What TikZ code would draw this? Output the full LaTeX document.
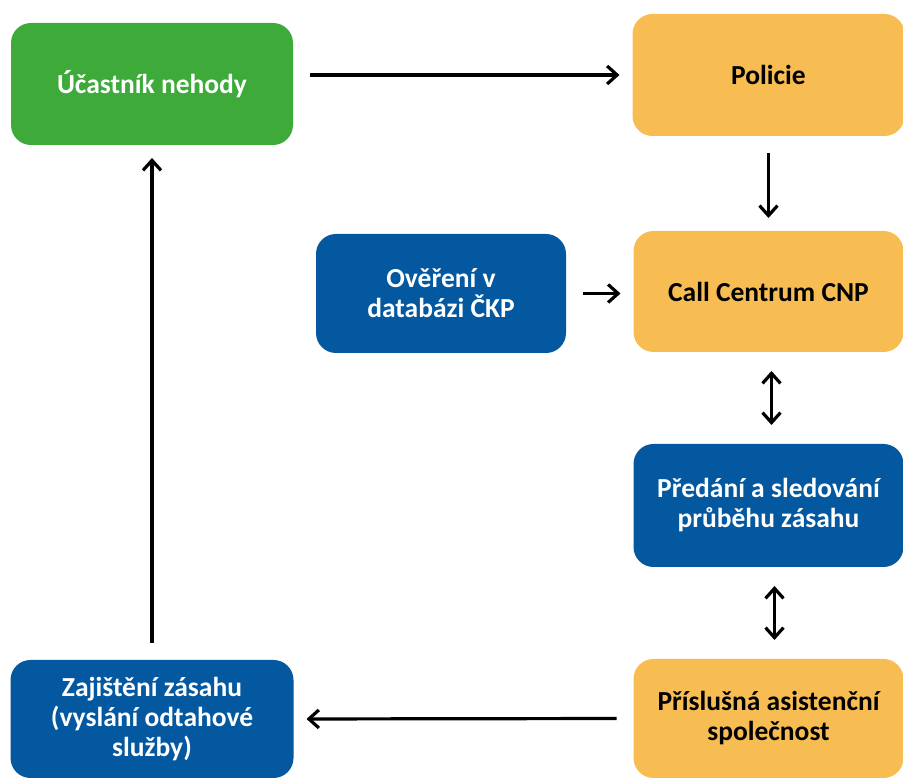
\documentclass[tikz,border=0pt]{standalone}
\usepackage{fontspec}
\setmainfont{Carlito}
\usetikzlibrary{arrows.meta}
\definecolor{gcol}{HTML}{3DAA3A}
\definecolor{ocol}{HTML}{F7BD52}
\definecolor{bcol}{HTML}{0358A0}
\tikzstyle{box}=[rectangle, rounded corners=20pt, inner sep=0pt, outer sep=0pt, align=center, font=\bfseries\fontsize{27.5}{30}\selectfont]
\tikzstyle{greenbox}=[box, fill=gcol, text=white]
\tikzstyle{orangebox}=[box, fill=ocol, text=black]
\tikzstyle{bluebox}=[box, fill=bcol, text=white]
\tikzstyle{link}=[line width=3.2pt, -{Straight Barb[length=10pt,width=18pt]}, shorten >=13pt, shorten <=17pt]
\tikzstyle{dlink}=[link, {Straight Barb[length=10pt,width=18pt]}-{Straight Barb[length=10pt,width=18pt]}, shorten >=19pt, shorten <=19pt]

\begin{document}
\begin{tikzpicture}[x=1pt,y=1pt]
			\useasboundingbox (0,0) rectangle (903,778);
			\node[greenbox, minimum width=282pt, minimum height=122pt] (ucast) at (152, 694) {Účastník nehody};
			\node[orangebox, minimum width=272pt, minimum height=122pt] (policie) at (768.5, 703) {Policie};
			\node[bluebox, minimum width=250pt, minimum height=119pt] (overeni) at (441, 484.5) {Ověření v\\databázi ČKP};
			\node[orangebox, minimum width=270pt, minimum height=121pt] (call) at (768.5, 486.5) {Call Centrum CNP};
			\node[bluebox, minimum width=270pt, minimum height=123pt] (predani) at (768.5, 272.5) {Předání a sledování\\průběhu zásahu};
			\node[orangebox, minimum width=270pt, minimum height=119pt] (prisl) at (768.5, 59.5) {Příslušná asistenční\\společnost};
			\node[bluebox, minimum width=283pt, minimum height=118pt] (zajist) at (152, 59) {Zajištění zásahu\\(vyslání odtahové\\služby)};

			% Horizontal
			\draw[link] (ucast.east |- policie) -- (policie.west);
			\draw[link] (overeni.east) -- (overeni.east -| call.west);
			\draw[link] (prisl.west) -- (zajist.east);
			% Vertical
			\draw[link] (policie.south) -- (call.north);
			\draw[dlink] ([xshift=3pt]call.south) -- ([xshift=3pt]predani.north);
			\draw[dlink] ([xshift=6pt]predani.south) -- ([xshift=6pt]prisl.north);
			\draw[link] (zajist.north) -- (ucast.south);
		\end{tikzpicture}
\end{document}
